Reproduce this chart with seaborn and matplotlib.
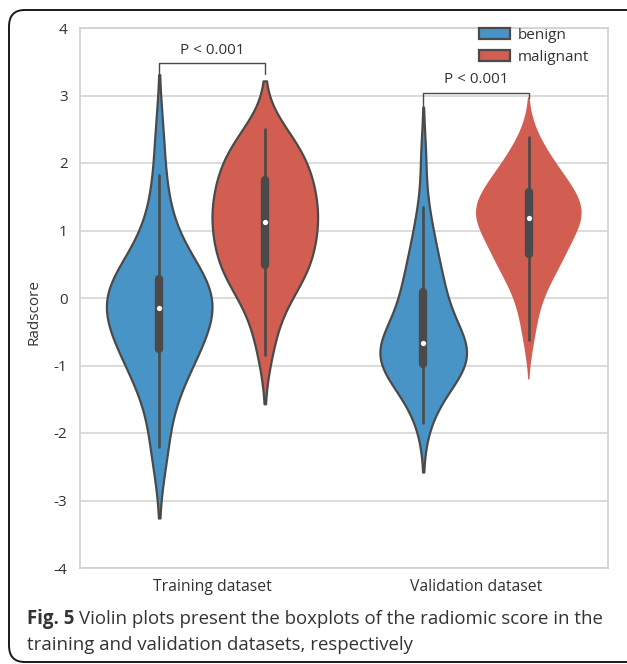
import matplotlib
matplotlib.use("Agg")
import matplotlib.pyplot as plt
from matplotlib.patches import FancyBboxPatch
import pandas as pd
import seaborn as sns

# radscore values (quartiles / whiskers / tails)
train_benign = [-2.4, -2.2, -1.8, -1.5, -1.35, -1.2, -1.1, -1.0, -0.9, -0.8,
                -0.75, -0.7, -0.62, -0.55, -0.5, -0.42, -0.35, -0.3, -0.22, -0.17,
                -0.13, -0.1, -0.05, 0.0, 0.05, 0.1, 0.15, 0.2, 0.24, 0.27,
                0.3, 0.4, 0.5, 0.62, 0.75, 0.9, 1.1, 1.4, 1.82, 2.45]
train_malignant = [-0.85, -0.5, -0.25, -0.05, 0.1, 0.2, 0.28, 0.35, 0.42, 0.46,
                   0.5, 0.58, 0.65, 0.72, 0.8, 0.88, 0.95, 1.02, 1.08, 1.12,
                   1.14, 1.2, 1.27, 1.33, 1.4, 1.47, 1.54, 1.6, 1.67, 1.73,
                   1.78, 1.85, 1.92, 2.0, 2.08, 2.16, 2.24, 2.32, 2.4, 2.5]
valid_benign = [-1.85, -1.6, -1.45, -1.35, -1.25, -1.18, -1.12, -1.07, -1.03, -1.0,
                -0.97, -0.94, -0.9, -0.87, -0.84, -0.81, -0.78, -0.75, -0.72, -0.69,
                -0.65, -0.6, -0.54, -0.48, -0.4, -0.32, -0.24, -0.15, -0.05, 0.07,
                0.12, 0.2, 0.3, 0.42, 0.55, 0.7, 0.85, 1.05, 1.35, 2.1]
valid_malignant = [-0.62, -0.3, -0.05, 0.12, 0.25, 0.35, 0.44, 0.52, 0.58, 0.62,
                   0.66, 0.72, 0.8, 0.88, 0.95, 1.0, 1.05, 1.1, 1.14, 1.17,
                   1.19, 1.22, 1.26, 1.3, 1.33, 1.36, 1.4, 1.45, 1.5, 1.56,
                   1.6, 1.65, 1.7, 1.76, 1.82, 1.9, 1.98, 2.08, 2.2, 2.38]

datasets = ["Training dataset", "Validation dataset"]
groups = ["benign", "malignant"]
p_labels = ["P < 0.001", "P < 0.001"]

rows = []
for ds, grp, vals in [(datasets[0], groups[0], train_benign),
                      (datasets[0], groups[1], train_malignant),
                      (datasets[1], groups[0], valid_benign),
                      (datasets[1], groups[1], valid_malignant)]:
    rows += [(ds, grp, v) for v in vals]
df = pd.DataFrame(rows, columns=["dataset", "group", "Radscore"])

sns.set_style("whitegrid", {"grid.color": "#d6d6d6", "axes.edgecolor": "#d0d0d0"})
plt.rcParams["font.family"] = ["Open Sans", "DejaVu Sans"]
plt.rcParams["axes.unicode_minus"] = False

fig = plt.figure(figsize=(6.27, 6.64), dpi=100)
ax = fig.add_axes([80 / 627, 96 / 664, 528 / 627, 540 / 664])

dark = "#4a4a4a"
sns.violinplot(data=df, x="dataset", y="Radscore", hue="group", order=datasets,
               hue_order=groups, palette=["#3498db", "#e74c3c"],
               density_norm="width", linewidth=1.6, linecolor=dark, cut=1.8,
               inner="box", inner_kws=dict(box_width=6, whis_width=1.9, marker="o"),
               ax=ax)

# validation malignant has no outline; validation benign is a bit narrower
for coll in ax.collections:
    paths = coll.get_paths()
    if not paths or len(paths[0].vertices) < 10:
        continue
    verts = paths[0].vertices
    xm = verts[:, 0].mean()
    if xm > 1.05:
        coll.set_edgecolor("none")
    elif 0.6 < xm < 1.0:
        verts[:, 0] = xm + (verts[:, 0] - xm) * 0.82

# smaller white median dot
for ln in ax.lines:
    if ln.get_marker() == "o":
        ln.set_markersize(3.8)
        ln.set_markeredgewidth(0)
        ln.set_markerfacecolor("white")

ax.set_ylim(-4, 4)
ax.set_xlim(-0.5, 1.5)
ax.set_yticks(range(-4, 5))
ax.set_xlabel("")
ax.set_ylabel("Radscore", fontsize=11, color="#333333")
ax.yaxis.set_label_coords(-0.072, 0.474)
ax.tick_params(axis="y", labelsize=11, colors="#333333", length=0, pad=9)
ax.tick_params(axis="x", labelsize=11.3, colors="#333333", length=0, pad=8)
ax.grid(True, axis="y", linewidth=1.2)
ax.grid(False, axis="x")
for s in ax.spines.values():
    s.set_linewidth(1.2)

# significance brackets
brackets = [(-0.2, 0.2, 3.48, 3.32, 3.32), (0.8, 1.2, 3.04, 2.82, 2.96)]
for (x0, x1, top, l_end, r_end), lab in zip(brackets, p_labels):
    ax.plot([x0, x0, x1, x1], [l_end, top, top, r_end], color=dark, lw=1.0)
    ax.text((x0 + x1) / 2, top + 0.08, lab, ha="center", va="bottom",
            fontsize=11, color="#333333")

leg = ax.legend(loc="upper left", bbox_to_anchor=(393 / 528, 1.011), frameon=False,
                fontsize=11, handlelength=2.0, handleheight=0.75,
                labelspacing=0.45, handletextpad=0.5, borderaxespad=0)
for t in leg.get_texts():
    t.set_color("#333333")

# caption and rounded frame
frame = FancyBboxPatch((9 / 627, 2 / 664), 640 / 627, 652 / 664,
                       boxstyle="round,pad=0,rounding_size=0.025",
                       transform=fig.transFigure, fill=False, edgecolor="#1a1a1a",
                       linewidth=1.4, clip_on=False)
fig.patches.append(frame)

cap_kw = dict(fontsize=13.4, color="#333333", va="baseline")
bold = fig.text(27 / 627, 1 - 624 / 664, "Fig. 5", fontweight="bold", **cap_kw)
fig.canvas.draw()
bb = bold.get_window_extent().transformed(fig.transFigure.inverted())
fig.text(bb.x1 + 5 / 627, 1 - 624 / 664,
         "Violin plots present the boxplots of the radiomic score in the", **cap_kw)
fig.text(27 / 627, 1 - 650 / 664,
         "training and validation datasets, respectively", **cap_kw)

fig.savefig("out.png", dpi=100)
